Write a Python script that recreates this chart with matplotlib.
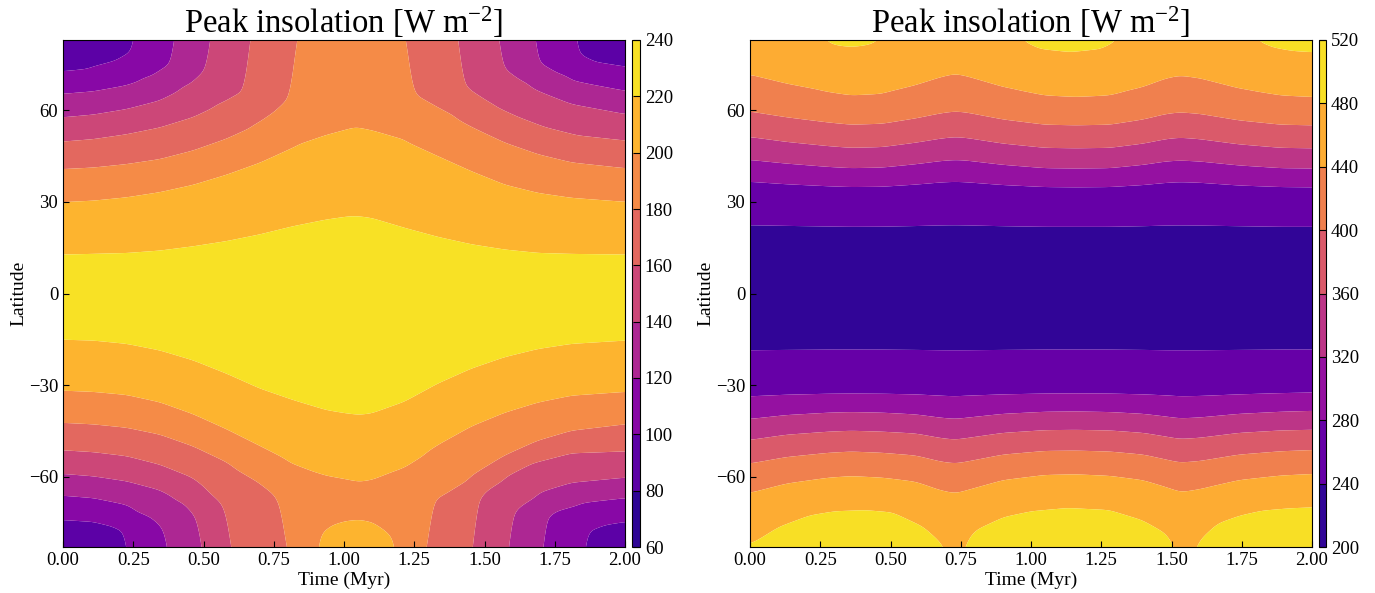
import numpy as np
import matplotlib
matplotlib.use("Agg")
import matplotlib.pyplot as plt

plt.rcParams["font.family"] = "serif"
plt.rcParams["font.serif"] = ["Liberation Serif", "DejaVu Serif"]
plt.rcParams["mathtext.fontset"] = "custom"
plt.rcParams["mathtext.rm"] = "Liberation Serif"
plt.rcParams["mathtext.it"] = "Liberation Serif:italic"

# ---------------------------------------------------------------------------
# Contour levels (W m^-2)
left_levels = [60, 80, 100, 120, 140, 160, 180, 200, 220, 240]
right_levels = [200, 240, 280, 320, 360, 400, 440, 480, 520]
right_ticks = [200, 240, 280, 320, 360, 400, 440, 480, 520]
x_ticks = [0.0, 0.25, 0.5, 0.75, 1.0, 1.25, 1.5, 1.75, 2.0]
y_ticks = [-60, -30, 0, 30, 60]

# ---------------------------------------------------------------------------
# Left panel: latitude (deg, poleward) of each iso-insolation line vs time (Myr).
# Values beyond ~83 deg mean the line lies past the pole at that time.
ln220_t = [0.0, 0.226, 0.344, 0.462, 0.580, 0.698, 0.817, 0.935, 1.018, 1.053, 1.100, 1.218, 1.337, 1.455, 1.573, 1.691, 1.810, 2.0]
ln220 = [12.9, 13.4, 14.2, 15.6, 17.3, 19.5, 22.2, 24.4, 25.5, 25.5, 24.9, 21.6, 18.6, 16.2, 14.5, 13.4, 13.1, 12.9]
ln200_t = [0.0, 0.108, 0.226, 0.344, 0.462, 0.580, 0.698, 0.817, 0.935, 1.041, 1.100, 1.218, 1.337, 1.455, 1.573, 1.691, 1.810, 2.0]
ln200 = [30.1, 30.6, 31.7, 33.4, 35.8, 39.1, 43.0, 47.9, 51.7, 54.4, 53.3, 50.1, 45.1, 40.2, 35.8, 33.1, 31.5, 30.2]
ln180_t = [0.0, 0.108, 0.226, 0.344, 0.462, 0.580, 0.698, 0.757, 0.817, 0.828, 1.225, 1.236, 1.254, 1.337, 1.455, 1.573, 1.691, 1.810, 2.0]
ln180 = [40.8, 41.3, 42.4, 44.0, 46.8, 50.6, 55.5, 59.3, 64.8, 90, 90, 67.0, 64.8, 60.4, 54.6, 49.5, 45.7, 43.0, 41.1]
ln160_t = [0.0, 0.108, 0.226, 0.344, 0.462, 0.580, 0.655, 0.670, 1.405, 1.414, 1.444, 1.514, 1.620, 1.715, 1.833, 2.0]
ln160 = [49.8, 50.6, 52.2, 54.4, 57.7, 62.6, 66.6, 95, 95, 69.2, 66.4, 62.1, 57.7, 54.4, 51.7, 50.1]
ln140_t = [0.0, 0.108, 0.226, 0.344, 0.462, 0.521, 0.535, 1.545, 1.552, 1.573, 1.620, 1.691, 1.810, 2.0]
ln140 = [57.7, 58.6, 60.4, 63.2, 68.6, 74.1, 100, 100, 75.2, 73.0, 69.7, 66.4, 62.1, 58.8]
ln120_t = [0.0, 0.108, 0.226, 0.320, 0.391, 0.400, 0.410, 1.670, 1.676, 1.691, 1.750, 1.810, 2.0]
ln120 = [65.4, 66.2, 68.1, 70.8, 75.2, 77.5, 105, 105, 77.4, 75.2, 71.9, 69.7, 66.4]
ln100_t = [0.0, 0.108, 0.190, 0.249, 0.262, 0.272, 1.812, 1.818, 1.844, 1.891, 2.0]
ln100 = [72.7, 73.6, 75.7, 79.0, 81.5, 110, 110, 79.6, 77.4, 75.2, 73.6]
ln80_t = [0.0, 0.050, 0.085, 0.095, 2.0]
ln80 = [81.5, 82.5, 83.5, 115, 115]

ls220_t = [0.0, 0.108, 0.226, 0.344, 0.462, 0.580, 0.698, 0.817, 0.935, 1.006, 1.053, 1.100, 1.218, 1.337, 1.455, 1.573, 1.691, 1.810, 2.0]
ls220 = [15.3, 15.6, 16.7, 18.9, 22.2, 26.6, 31.5, 35.3, 38.6, 39.7, 40.2, 39.7, 35.8, 29.8, 24.9, 21.1, 18.4, 16.7, 15.6]
ls200_t = ls220_t
ls200 = [32.0, 32.4, 33.4, 35.8, 39.7, 44.6, 50.0, 55.5, 59.7, 61.0, 61.9, 61.2, 56.6, 49.5, 43.5, 39.1, 35.8, 33.6, 32.4]
ls180_t = [0.0, 0.108, 0.226, 0.344, 0.462, 0.580, 0.698, 0.757, 0.781, 0.795, 1.298, 1.310, 1.360, 1.455, 1.573, 1.691, 1.810, 2.0]
ls180 = [42.4, 42.9, 44.0, 46.2, 50.0, 55.0, 61.5, 65.9, 69.7, 90, 90, 68.0, 65.4, 59.9, 53.3, 48.4, 45.1, 42.9]
ls160_t = [0.0, 0.108, 0.226, 0.344, 0.462, 0.532, 0.579, 0.591, 0.597, 0.605, 1.458, 1.464, 1.500, 1.573, 1.668, 1.810, 2.0]
ls160 = [51.4, 52.0, 53.3, 56.1, 60.4, 65.4, 69.7, 75.2, 82.8, 95, 95, 68.6, 64.3, 59.9, 55.5, 52.2, 51.7]
ls140_t = [0.0, 0.108, 0.226, 0.344, 0.438, 0.486, 0.497, 0.505, 1.582, 1.588, 1.620, 1.691, 1.810, 2.0]
ls140 = [59.1, 59.9, 61.5, 64.3, 68.6, 74.1, 82.8, 100, 100, 73.0, 69.7, 65.4, 62.1, 60.4]
ls120_t = [0.0, 0.108, 0.226, 0.320, 0.367, 0.379, 0.387, 1.700, 1.706, 1.750, 1.833, 2.0]
ls120 = [66.2, 67.0, 69.2, 73.0, 77.4, 82.8, 105, 105, 74.1, 70.8, 68.6, 67.0]
ls100_t = [0.0, 0.108, 0.178, 0.226, 0.237, 0.245, 1.842, 1.850, 1.868, 1.927, 2.0]
ls100 = [73.5, 74.1, 75.7, 77.9, 82.8, 110, 110, 80.5, 77.4, 75.2, 74.1]
ls80_t = [0.0, 2.0]
ls80 = [115, 115]

# Polar cap near the south pole where insolation climbs back above 200 W m^-2
ls_cap_level = 200
ls_cap_t = [0.895, 0.915, 0.955, 1.005, 1.055, 1.105, 1.150, 1.180, 1.195]
ls_cap = [84.0, 78.5, 75.5, 74.0, 73.5, 74.5, 77.5, 80.5, 84.0]

left_equator = (-1.0, 231.0)

# ---------------------------------------------------------------------------
# Right panel
rt = [0.0, 0.13, 0.28, 0.36, 0.47, 0.59, 0.68, 0.73, 0.77, 0.90, 1.05, 1.16, 1.28, 1.40, 1.48, 1.53, 1.60, 1.74, 1.89, 2.0]
rn240 = [22.6, 22.4, 22.2, 22.1, 22.15, 22.35, 22.55, 22.6, 22.55, 22.3, 22.1, 22.1, 22.1, 22.3, 22.5, 22.55, 22.5, 22.3, 22.1, 22.1]
rn280 = [36.8, 36.0, 35.35, 35.1, 35.2, 35.9, 36.6, 36.8, 36.65, 35.75, 35.1, 35.0, 35.1, 35.75, 36.45, 36.7, 36.5, 35.6, 35.1, 35.0]
rn320 = [43.7, 42.5, 41.4, 41.0, 41.2, 42.3, 43.35, 43.7, 43.5, 42.1, 41.0, 40.9, 41.0, 42.1, 43.2, 43.5, 43.2, 41.9, 41.0, 40.9]
rn360 = [51.2, 49.6, 48.2, 47.65, 47.9, 49.35, 50.7, 51.2, 50.9, 49.05, 47.65, 47.5, 47.65, 49.05, 50.5, 51.0, 50.5, 48.8, 47.65, 47.5]
rn400 = [59.45, 57.6, 55.9, 55.2, 55.5, 57.25, 58.9, 59.5, 59.15, 56.9, 55.2, 55.0, 55.2, 56.9, 58.65, 59.2, 58.7, 56.6, 55.2, 55.0]
rn440 = [71.5, 68.5, 65.8, 64.7, 65.2, 68.0, 70.7, 71.8, 71.0, 67.4, 64.7, 64.2, 64.7, 67.4, 70.2, 71.2, 70.3, 66.9, 64.7, 64.2]
rn480_t = [0.0, 0.245, 0.262, 0.30, 0.36, 0.42, 0.465, 0.482, 0.945, 0.965, 1.03, 1.14, 1.25, 1.31, 1.33, 1.78, 1.80, 1.86, 1.93, 2.0]
rn480 = [90, 90, 83, 81.3, 80.6, 81.3, 83, 90, 90, 83, 80.0, 78.9, 80.0, 83, 90, 90, 83, 80.5, 79.3, 78.9]
rn520_t = [0.0, 2.0]
rn520 = [100, 100]

rs240 = [18.8, 18.7, 18.6, 18.6, 18.6, 18.7, 18.8, 18.8, 18.8, 18.7, 18.6, 18.6, 18.6, 18.7, 18.8, 18.8, 18.8, 18.7, 18.6, 18.6]
rs280 = [33.9, 33.4, 33.1, 33.05, 33.1, 33.3, 33.7, 33.9, 33.7, 33.3, 33.05, 33.0, 33.05, 33.3, 33.6, 33.9, 33.8, 33.3, 32.9, 32.7]
rs320 = [41.1, 39.8, 39.0, 38.8, 39.0, 39.6, 40.7, 41.1, 40.7, 39.4, 38.7, 38.6, 38.8, 39.4, 40.3, 40.9, 40.6, 39.4, 38.7, 38.4]
rs360 = [47.9, 46.2, 45.2, 44.9, 45.2, 45.8, 47.3, 47.8, 47.3, 45.6, 44.7, 44.6, 44.8, 45.6, 46.8, 47.6, 47.2, 45.6, 44.8, 44.6]
rs400 = [55.6, 53.5, 52.1, 51.7, 52.1, 53.0, 55.0, 55.6, 55.0, 52.7, 51.5, 51.4, 51.7, 52.7, 54.3, 55.3, 54.8, 52.7, 51.6, 51.2]
rs440 = [65.1, 62.1, 60.2, 59.7, 60.2, 61.5, 64.3, 65.1, 64.3, 61.0, 59.3, 59.1, 59.6, 61.0, 63.2, 64.7, 63.9, 61.0, 59.5, 59.0]
rs480_t = [0.0, 0.03, 0.10, 0.21, 0.30, 0.41, 0.51, 0.62, 0.67, 0.695, 0.705, 0.755, 0.765, 0.80, 0.90, 1.00, 1.13, 1.28, 1.40, 1.48, 1.51, 1.522, 1.575, 1.585, 1.60, 1.66, 1.74, 1.82, 1.92, 2.0]
rs480 = [82.0, 80.5, 76.3, 72.4, 71.0, 70.6, 71.4, 76.3, 80.7, 83.0, 90, 90, 81.5, 77.4, 73.0, 71.0, 69.9, 70.6, 74.1, 78.4, 82.0, 90, 90, 82.5, 80.7, 75.2, 72.5, 70.8, 70.0, 69.7]
rs520_t = [0.0, 2.0]
rs520 = [100, 100]

right_equator = (1.5, 213.0)

# ---------------------------------------------------------------------------
time_grid = np.linspace(0.0, 2.0, 1001)
lat_grid = np.linspace(-84.0, 84.0, 841)


def peak_field(north, south, equator, cap=None):
    """Grid the insolation field from the iso-line positions, column by column."""
    n_pos = [(lev, np.interp(time_grid, t, l)) for lev, t, l in north]
    s_pos = [(lev, np.interp(time_grid, t, l)) for lev, t, l in south]
    if cap is not None:
        cap_level, cap_t, cap_l = cap
        cap_pos = np.interp(time_grid, cap_t, cap_l, left=np.nan, right=np.nan)
    z = np.empty((lat_grid.size, time_grid.size))
    for j in range(time_grid.size):
        knots = [equator] + [(p[j], lev) for lev, p in n_pos]
        south_knots = [(-p[j], lev) for lev, p in s_pos]
        if cap is not None and not np.isnan(cap_pos[j]):
            edge = [p[j] for lev, p in s_pos if lev == cap_level][0]
            c = cap_pos[j]
            south_knots = [k for k in south_knots if k[1] >= cap_level]
            south_knots += [(-(edge + c) / 2.0, cap_level - 10),
                            (-c, cap_level), (-88.0, cap_level + 6)]
        knots += south_knots
        knots.sort()
        xs = np.array([k[0] for k in knots])
        vs = np.array([k[1] for k in knots])
        z[:, j] = np.interp(lat_grid, xs, vs)
    return z


def soften(z, sig_lat, sig_t):
    """Gaussian smoothing of the gridded field along both axes."""
    steps = (lat_grid[1] - lat_grid[0], time_grid[1] - time_grid[0])
    for axis, sig, step in ((0, sig_lat, steps[0]), (1, sig_t, steps[1])):
        n = int(np.ceil(3 * sig / step))
        x = np.arange(-n, n + 1) * step
        k = np.exp(-0.5 * (x / sig) ** 2)
        k /= k.sum()
        pad = [(0, 0), (0, 0)]
        pad[axis] = (n, n)
        zp = np.pad(z, pad, mode="edge")
        z = np.apply_along_axis(lambda v: np.convolve(v, k, mode="valid"), axis, zp)
    return z


left_north = [(220, ln220_t, ln220), (200, ln200_t, ln200), (180, ln180_t, ln180),
              (160, ln160_t, ln160), (140, ln140_t, ln140), (120, ln120_t, ln120),
              (100, ln100_t, ln100), (80, ln80_t, ln80)]
left_south = [(220, ls220_t, ls220), (200, ls200_t, ls200), (180, ls180_t, ls180),
              (160, ls160_t, ls160), (140, ls140_t, ls140), (120, ls120_t, ls120),
              (100, ls100_t, ls100), (80, ls80_t, ls80)]
right_north = [(240, rt, rn240), (280, rt, rn280), (320, rt, rn320), (360, rt, rn360),
               (400, rt, rn400), (440, rt, rn440), (480, rn480_t, rn480),
               (520, rn520_t, rn520)]
right_south = [(240, rt, rs240), (280, rt, rs280), (320, rt, rs320), (360, rt, rs360),
               (400, rt, rs400), (440, rt, rs440), (480, rs480_t, rs480),
               (520, rs520_t, rs520)]

z_left = soften(peak_field(left_north, left_south, left_equator,
                           cap=(ls_cap_level, ls_cap_t, ls_cap)), 1.0, 0.014)
z_right = soften(peak_field(right_north, right_south, right_equator), 0.8, 0.016)

# ---------------------------------------------------------------------------
W, H = 1375.0, 593.0
fig = plt.figure(figsize=(W / 100, H / 100), dpi=100)
ax1 = fig.add_axes([63 / W, 46 / H, 562 / W, 507 / H])
cax1 = fig.add_axes([632 / W, 46 / H, 8 / W, 507 / H])
ax2 = fig.add_axes([750 / W, 46 / H, 562 / W, 507 / H])
cax2 = fig.add_axes([1319 / W, 46 / H, 7 / W, 507 / H])

tick_fs = 13.5
for ax, z, levels, cax, cticks in [(ax1, z_left, left_levels, cax1, left_levels),
                                   (ax2, z_right, right_levels, cax2, right_ticks)]:
    cs = ax.contourf(time_grid, lat_grid, z, levels=levels, cmap="plasma",
                     antialiased=True)
    ax.set_xlim(0, 2)
    ax.set_ylim(-83, 83)
    ax.set_xticks(x_ticks)
    ax.set_xticklabels([f"{v:.2f}" for v in x_ticks])
    ax.set_yticks(y_ticks)
    ax.tick_params(direction="in", labelsize=tick_fs, length=4)
    ax.set_xlabel("Time (Myr)", fontsize=14, labelpad=2)
    ax.set_ylabel("Latitude", fontsize=14, labelpad=1)
    ax.set_title(r"Peak insolation [W m$^{-2}$]", fontsize=23.5, pad=3)
    cb = fig.colorbar(cs, cax=cax, ticks=cticks)
    cb.ax.tick_params(direction="in", labelsize=tick_fs, length=5)

fig.savefig("out.png", dpi=100)
